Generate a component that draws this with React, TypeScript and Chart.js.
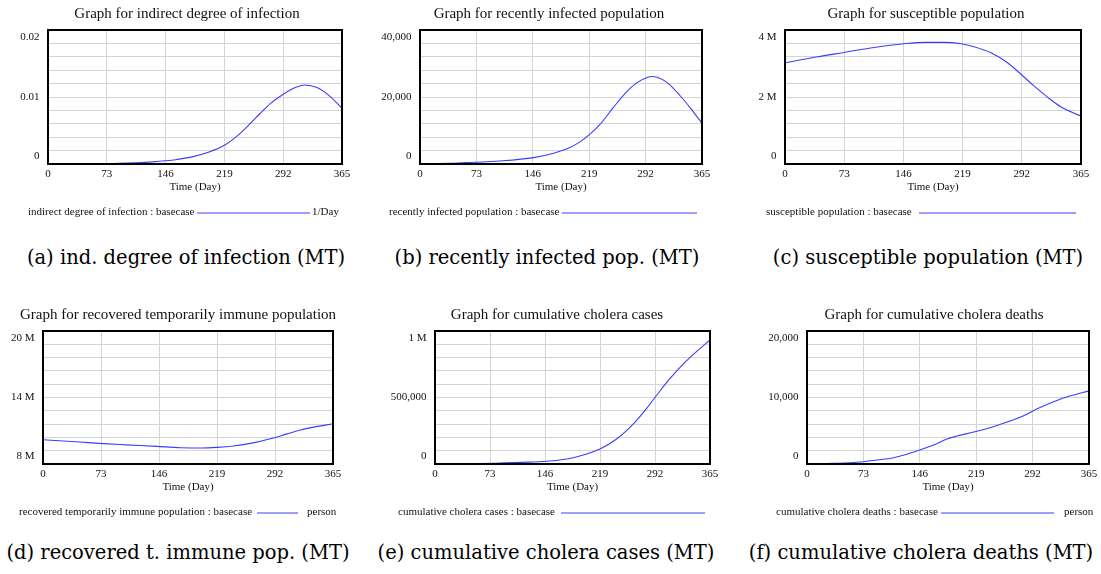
import React, { useEffect, useRef } from "react";
import { Chart, registerables } from "chart.js";

Chart.register(...registerables);

// ---------- data ----------
const X_TICKS = [0, 73, 146, 219, 292, 365];

const DAYS_IND = [0, 40, 75, 106, 130, 146, 160, 180, 200, 219, 235, 250, 263, 276, 292, 305, 319, 334, 350, 365];
const IND_DEGREE = [0, 0, 0.00005, 0.00018, 0.00032, 0.00048, 0.00068, 0.0011, 0.0018, 0.0028, 0.0042, 0.0059, 0.0075, 0.009, 0.0104, 0.0113, 0.0118, 0.0114, 0.0101, 0.0083];
const IND_Y_TICKS = [0, 0.01, 0.02];
const IND_Y_LABELS = ["0", "0.01", "0.02"];

const DAYS_REC_INF = [0, 40, 60, 104, 147, 173, 194, 207, 220, 233, 250, 268, 281, 294, 300, 307, 320, 337, 350, 365];
const RECENTLY_INFECTED = [150, 200, 400, 900, 1900, 3200, 4900, 6600, 8900, 11800, 16800, 21700, 24300, 25800, 26100, 25900, 24300, 20300, 16700, 12140];
const REC_INF_Y_TICKS = [0, 20000, 40000];
const REC_INF_Y_LABELS = ["0", "20,000", "40,000"];

const DAYS_SUSC = [0, 40, 73, 110, 147, 172, 196, 217, 233, 254, 274, 291, 307, 324, 340, 365];
const SUSCEPTIBLE = [3.02e6, 3.2e6, 3.33e6, 3.48e6, 3.59e6, 3.63e6, 3.63e6, 3.59e6, 3.5e6, 3.32e6, 3.03e6, 2.68e6, 2.33e6, 1.99e6, 1.71e6, 1.43e6];
const SUSC_Y_TICKS = [0, 2e6, 4e6];
const SUSC_Y_LABELS = ["0", "2 M", "4 M"];

const DAYS_RECOV = [0, 46, 76, 105, 143, 173, 200, 219, 240, 261, 274, 290, 307, 324, 341, 365];
const RECOVERED_IMMUNE = [10.19e6, 9.98e6, 9.84e6, 9.73e6, 9.59e6, 9.47e6, 9.44e6, 9.5e6, 9.63e6, 9.86e6, 10.05e6, 10.34e6, 10.72e6, 11.07e6, 11.33e6, 11.63e6];
const RECOV_Y_TICKS = [8e6, 14e6, 20e6];
const RECOV_Y_LABELS = ["8 M", "14 M", "20 M"];

const DAYS_CASES = [0, 60, 86, 117, 148, 175, 192, 219, 241, 263, 281, 294, 312, 330, 347, 365];
const CUM_CASES = [0, 3000, 7000, 12500, 21000, 38000, 60000, 113000, 188000, 300000, 418000, 515000, 643000, 755000, 845000, 932500];
const CASES_Y_TICKS = [0, 500000, 1000000];
const CASES_Y_LABELS = ["0", "500,000", "1 M"];

const DAYS_DEATHS = [0, 35, 69, 91, 112, 130, 147, 164, 181, 194, 216, 238, 259, 281, 298, 320, 341, 365];
const CUM_DEATHS = [0, 100, 300, 600, 950, 1500, 2150, 2850, 3750, 4200, 4800, 5500, 6300, 7300, 8300, 9400, 10250, 11000];
const DEATHS_Y_TICKS = [0, 10000, 20000];
const DEATHS_Y_LABELS = ["0", "10,000", "20,000"];

// ---------- styling / layout ----------
const LINE_COLOR = "rgb(60,60,255)";
const GRID_COLOR = "#d4d4d4";
const SERIF = '"Liberation Serif", "Times New Roman", serif';
const CELL_W = 367;
const CELL_H = 230;

type Panel = {
  title: string;
  days: number[];
  values: number[];
  yTicks: number[];
  yLabels: string[];
  legend: string;
  unit?: string;
  cellX: number;
  cellY: number;
  box: { l: number; t: number; r: number; b: number };
  titleX: number;
  titleY: number;
  legendX: number;
  lineX0: number;
  lineX1: number;
  unitX?: number;
};

const PANELS: Panel[] = [
  {
    title: "Graph for indirect degree of infection",
    days: DAYS_IND, values: IND_DEGREE, yTicks: IND_Y_TICKS, yLabels: IND_Y_LABELS,
    legend: "indirect degree of infection : basecase", unit: "1/Day",
    cellX: 0, cellY: 0, box: { l: 48, t: 30, r: 342, b: 164 },
    titleX: 187, titleY: 14, legendX: 28, lineX0: 197, lineX1: 310, unitX: 312,
  },
  {
    title: "Graph for recently infected population",
    days: DAYS_REC_INF, values: RECENTLY_INFECTED, yTicks: REC_INF_Y_TICKS, yLabels: REC_INF_Y_LABELS,
    legend: "recently infected population : basecase",
    cellX: 367, cellY: 0, box: { l: 53, t: 30, r: 335, b: 164 },
    titleX: 182, titleY: 14, legendX: 22, lineX0: 195, lineX1: 330,
  },
  {
    title: "Graph for susceptible population",
    days: DAYS_SUSC, values: SUSCEPTIBLE, yTicks: SUSC_Y_TICKS, yLabels: SUSC_Y_LABELS,
    legend: "susceptible population : basecase",
    cellX: 734, cellY: 0, box: { l: 51, t: 30, r: 347, b: 164 },
    titleX: 192, titleY: 14, legendX: 32, lineX0: 185, lineX1: 342,
  },
  {
    title: "Graph for recovered temporarily immune population",
    days: DAYS_RECOV, values: RECOVERED_IMMUNE, yTicks: RECOV_Y_TICKS, yLabels: RECOV_Y_LABELS,
    legend: "recovered temporarily immune population : basecase", unit: "person",
    cellX: 0, cellY: 295, box: { l: 43, t: 36, r: 333, b: 169 },
    titleX: 178, titleY: 20, legendX: 19, lineX0: 257, lineX1: 298, unitX: 307,
  },
  {
    title: "Graph for cumulative cholera cases",
    days: DAYS_CASES, values: CUM_CASES, yTicks: CASES_Y_TICKS, yLabels: CASES_Y_LABELS,
    legend: "cumulative cholera cases : basecase",
    cellX: 367, cellY: 295, box: { l: 68, t: 36, r: 343, b: 169 },
    titleX: 190, titleY: 20, legendX: 31, lineX0: 194, lineX1: 338,
  },
  {
    title: "Graph for cumulative cholera deaths",
    days: DAYS_DEATHS, values: CUM_DEATHS, yTicks: DEATHS_Y_TICKS, yLabels: DEATHS_Y_LABELS,
    legend: "cumulative cholera deaths : basecase", unit: "person",
    cellX: 734, cellY: 295, box: { l: 73, t: 36, r: 355, b: 169 },
    titleX: 200, titleY: 20, legendX: 42, lineX0: 207, lineX1: 320, unitX: 330,
  },
];

const CAPTIONS = [
  { text: "(a) ind. degree of infection (MT)", x: 186, y: 258 },
  { text: "(b) recently infected pop. (MT)", x: 547, y: 258 },
  { text: "(c) susceptible population (MT)", x: 928, y: 258 },
  { text: "(d) recovered t. immune pop. (MT)", x: 178, y: 553 },
  { text: "(e) cumulative cholera cases (MT)", x: 546, y: 553 },
  { text: "(f) cumulative cholera deaths (MT)", x: 921, y: 553 },
];

function makeDecor(p: Panel) {
  return {
    id: "vensimDecor",
    afterDraw(chart: any) {
      const { ctx, chartArea: ca } = chart;
      const ys = chart.scales.y;
      const xs = chart.scales.x;
      const yMin = p.yTicks[0];
      const yMax = p.yTicks[p.yTicks.length - 1];
      ctx.save();
      ctx.strokeStyle = "#000";
      ctx.lineWidth = 2;
      ctx.strokeRect(ca.left, ca.top, ca.right - ca.left, ca.bottom - ca.top);

      ctx.fillStyle = "#111";
      ctx.font = `11px ${SERIF}`;
      ctx.textAlign = "right";
      ctx.textBaseline = "middle";
      p.yTicks.forEach((v, i) => {
        let y = ys.getPixelForValue(v);
        if (v === yMax) y = ca.top + 7;
        else if (v === yMin) y = ca.bottom - 7.5;
        ctx.fillText(p.yLabels[i], ca.left - 8.5, y);
      });

      ctx.textAlign = "center";
      X_TICKS.forEach((v) => {
        ctx.fillText(String(v), xs.getPixelForValue(v), ca.bottom + 10.5);
      });
      ctx.fillText("Time (Day)", (ca.left + ca.right) / 2, ca.bottom + 23.5);

      ctx.font = `15px ${SERIF}`;
      ctx.fillText(p.title, p.titleX, p.titleY);

      const ly = ca.bottom + 48.5;
      ctx.font = `11px ${SERIF}`;
      ctx.textAlign = "left";
      ctx.fillText(p.legend, p.legendX, ly);
      ctx.strokeStyle = LINE_COLOR;
      ctx.lineWidth = 1;
      ctx.beginPath();
      ctx.moveTo(p.lineX0, ly + 0.5);
      ctx.lineTo(p.lineX1, ly + 0.5);
      ctx.stroke();
      if (p.unit && p.unitX !== undefined) ctx.fillText(p.unit, p.unitX, ly);
      ctx.restore();
    },
  };
}

function PanelChart({ p }: { p: Panel }) {
  const ref = useRef<HTMLCanvasElement | null>(null);
  useEffect(() => {
    if (!ref.current) return;
    const yMin = p.yTicks[0];
    const yMax = p.yTicks[p.yTicks.length - 1];
    const chart = new Chart(ref.current, {
      type: "line",
      data: {
        datasets: [
          {
            data: p.days.map((d, i) => ({ x: d, y: p.values[i] })),
            borderColor: LINE_COLOR,
            borderWidth: 1.1,
            pointRadius: 0,
            cubicInterpolationMode: "monotone",
            fill: false,
          },
        ],
      },
      options: {
        animation: false,
        responsive: false,
        maintainAspectRatio: false,
        events: [],
        layout: {
          padding: {
            left: p.box.l,
            top: p.box.t,
            right: CELL_W - p.box.r,
            bottom: CELL_H - p.box.b,
          },
        },
        plugins: { legend: { display: false }, title: { display: false }, tooltip: { enabled: false } },
        scales: {
          x: {
            type: "linear",
            min: 0,
            max: 365,
            afterBuildTicks: (axis: any) => {
              axis.ticks = X_TICKS.map((v) => ({ value: v }));
            },
            afterFit: (axis: any) => {
              axis.height = 0;
            },
            border: { display: false },
            grid: { color: GRID_COLOR, lineWidth: 1, drawTicks: false },
            ticks: { display: false },
          },
          y: {
            type: "linear",
            min: yMin,
            max: yMax,
            afterFit: (axis: any) => {
              axis.width = 0;
            },
            border: { display: false },
            grid: { color: GRID_COLOR, lineWidth: 1, drawTicks: false },
            ticks: { display: false, stepSize: (yMax - yMin) / 10 },
          },
        },
      } as any,
      plugins: [makeDecor(p)],
    });
    return () => chart.destroy();
  }, [p]);
  return (
    <canvas
      ref={ref}
      width={CELL_W}
      height={CELL_H}
      style={{ position: "absolute", left: p.cellX, top: p.cellY, width: CELL_W, height: CELL_H }}
    />
  );
}

export default function App() {
  return (
    <div style={{ position: "absolute", left: 0, top: 0, width: 1101, height: 574, background: "#fff", overflow: "hidden" }}>
      {PANELS.map((p, i) => (
        <PanelChart key={i} p={p} />
      ))}
      {CAPTIONS.map((c, i) => (
        <div
          key={i}
          style={{
            position: "absolute",
            left: c.x,
            top: c.y,
            transform: "translate(-50%, -50%)",
            whiteSpace: "nowrap",
            fontFamily: '"DejaVu Serif", serif',
            fontSize: 19.5,
            color: "#000",
            lineHeight: 1,
          }}
        >
          {c.text}
        </div>
      ))}
    </div>
  );
}
